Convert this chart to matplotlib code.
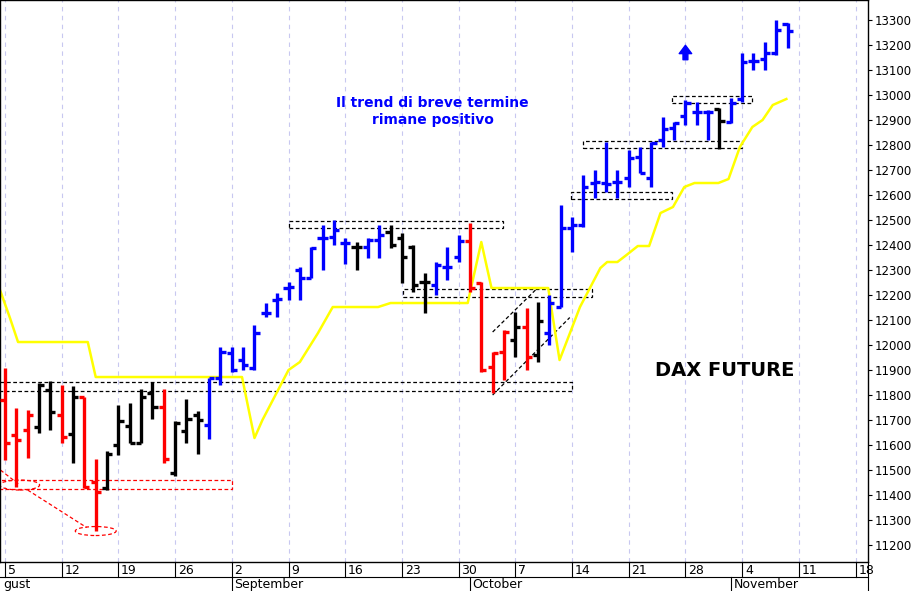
import matplotlib
matplotlib.use("Agg")
import matplotlib.pyplot as plt
from matplotlib.patches import Rectangle, Ellipse

opens = [11780,11640,11660,11672,11820,11720,11644,11792,11452,11428,11600,11676,11608,11808,11752,11488,11656,11720,11680,11868,
         11968,11940,11908,12128,12180,12228,12300,12268,12428,12432,12408,12392,12392,12420,12452,12428,12392,12252,12240,12312,
         12352,12416,12248,11912,11972,12020,12072,11960,12048,12152,12468,12480,12648,12648,12652,12668,12752,12668,12820,12868,
         12916,12932,12932,12944,12892,12984,13136,13144,13168,13284]
highs = [11908,11748,11740,11848,11856,11840,11836,11792,11544,11576,11760,11768,11824,11852,11824,11696,11784,11736,11868,11992,
         11992,11992,12080,12168,12208,12252,12312,12392,12480,12500,12428,12412,12428,12480,12480,12448,12400,12288,12332,12392,
         12440,12488,12252,11972,12060,12132,12148,12172,12200,12560,12512,12680,12700,12812,12700,12780,12792,12812,12912,12892,
         12980,12972,12940,12948,12988,13168,13168,13212,13300,13288]
lows = [11540,11432,11548,11648,11660,11608,11528,11428,11256,11420,11560,11608,11608,11704,11528,11476,11608,11564,11624,11840,
        11892,11900,11900,12112,12112,12180,12180,12268,12300,12400,12324,12300,12348,12348,12388,12248,12212,12128,12200,12260,
        12332,12212,11892,11808,11860,11952,11900,11932,12000,12152,12372,12472,12588,12612,12588,12632,12688,12632,12792,12820,
        12880,12880,12820,12784,12888,12972,13100,13100,13160,13188]
closes = [11608,11620,11720,11840,11732,11632,11792,11432,11412,11564,11696,11608,11792,11752,11544,11688,11704,11700,11868,11972,
          11900,11920,12048,12128,12184,12232,12268,12388,12428,12460,12408,12392,12420,12440,12400,12352,12240,12252,12320,12312,
          12416,12228,11900,11968,12052,12072,11952,12096,12168,12468,12480,12632,12652,12644,12652,12748,12688,12808,12864,12888,
          12968,12932,12932,12896,12968,13132,13136,13168,13260,13256]
signal = "RRRKKRKRRKKKKKRKKKBBBBBBBBBBBBBKBBKKKKBBBRRRRKRKBBBBBBBBBBBBBBBKBBBBBB"
col = {"R": "#ff0000", "K": "#000000", "B": "#0000ff"}

ma_x = [-0.44,0.44,1.15,7.3,8.0,20.9,22.0,22.7,25.0,26.0,27.6,28.9,32.9,34.0,40.8,42.0,42.9,47.9,48.9,50.7,52.5,53.1,54.0,54.8,
        55.8,56.8,57.8,58.9,59.9,60.8,62.9,63.8,64.8,65.9,66.8,67.7,68.9]
ma_y = [12220,12108,12012,12012,11872,11872,11628,11700,11900,11932,12048,12152,12152,12168,12168,12412,12228,12228,11940,12152,
        12308,12332,12332,12360,12396,12396,12528,12552,12632,12648,12648,12664,12792,12872,12900,12960,12984]

day_ticks = [0,5,10,15,20,25,30,35,40,45,50,55,60,65,70,75]
day_labels = ["5","12","19","26","2","9","16","23","30","7","14","21","28","4","11","18"]
months = [("gust", -0.9), ("September", 20), ("October", 41), ("November", 64)]

fig = plt.figure(figsize=(9.2, 5.91), dpi=100)
ax = fig.add_axes([0, 0.049, 0.9435, 0.951])
xmin, xmax = -0.44, 76.1
ax.set_xlim(xmin, xmax)
ax.set_ylim(11132, 13380)

for t in day_ticks:
    ax.axvline(t, color="#c8c8f0", ls=(0, (4, 4)), lw=0.8, zorder=0)

# boxes
boxes = [(-1, 50.0, 11816, 11852, "k"), (25.0, 43.9, 12468, 12496, "k"), (35.1, 51.8, 12192, 12224, "k"),
         (-1, 20.0, 11424, 11460, "r"), (49.9, 58.8, 12584, 12612, "k"), (51.0, 65.0, 12788, 12816, "k"),
         (58.8, 65.9, 12968, 12996, "k")]
for x0, x1, y0, y1, c in boxes:
    ax.add_patch(Rectangle((x0, y0), x1 - x0, y1 - y0, fill=False, ec=c, ls=(0, (3, 2)), lw=0.9, zorder=1))
ax.add_patch(Ellipse((1.3, 11440), 3.5, 40, fill=False, ec="r", ls=(0, (3, 2)), lw=0.9))
ax.add_patch(Ellipse((8.0, 11256), 3.6, 36, fill=False, ec="r", ls=(0, (3, 2)), lw=0.9))
ax.plot([-0.4, 1.3], [11500, 11440], color="r", ls=(0, (3, 2)), lw=0.9)
ax.plot([2.0, 7.2], [11420, 11270], color="r", ls=(0, (3, 2)), lw=0.9)
ax.plot([43.0, 49.8], [11800, 12110], color="k", ls=(0, (3, 2)), lw=0.9)
ax.plot([43.0, 47.0], [12052, 12230], color="k", ls=(0, (3, 2)), lw=0.9)

ax.plot(ma_x, ma_y, color="#ffff00", lw=1.8, zorder=2)

tk = 0.45
for i in range(len(opens)):
    c = col[signal[i]]
    ax.plot([i, i], [lows[i], highs[i]], color=c, lw=2.4, solid_capstyle="butt", zorder=3)
    ax.plot([i - tk, i], [opens[i], opens[i]], color=c, lw=2.4, solid_capstyle="butt", zorder=3)
    ax.plot([i, i + tk], [closes[i], closes[i]], color=c, lw=2.4, solid_capstyle="butt", zorder=3)

ax.text(37.7, 12935, "Il trend di breve termine\nrimane positivo", color="#0000ff", fontsize=10,
        fontweight="bold", ha="center", va="center", linespacing=1.3)
ax.text(63.5, 11900, "DAX FUTURE", color="black", fontsize=14, fontweight="bold", ha="center", va="center")
ax.annotate("", xy=(60.0, 13210), xytext=(60.0, 13130),
            arrowprops=dict(arrowstyle="simple,head_width=0.9,head_length=0.6,tail_width=0.35", color="#0000ff"))

ax.yaxis.tick_right()
ax.set_yticks(range(11200, 13301, 100))
ax.tick_params(axis="y", labelsize=8.5, length=3, pad=2)
ax.set_xticks(day_ticks)
ax.set_xticklabels([])
ax.tick_params(axis="x", length=0)
for s in ax.spines.values():
    s.set_linewidth(1)

def fx(i):
    return 0.9435 * (i - xmin) / (xmax - xmin)

for t, lab in zip(day_ticks, day_labels):
    fig.text(fx(t) + 0.003, 0.035, lab, fontsize=9, ha="left", va="center")
    fig.add_artist(plt.Line2D([fx(t), fx(t)], [0.024, 0.049], color="k", lw=0.8))
fig.add_artist(plt.Line2D([0, 0.9435], [0.024, 0.024], color="k", lw=0.8))
fig.add_artist(plt.Line2D([0.9435, 0.9435], [0, 0.049], color="k", lw=0.8))
for name, pos in months:
    fig.text(max(fx(pos), 0) + 0.003, 0.011, name, fontsize=9, ha="left", va="center")
    if pos > 0:
        fig.add_artist(plt.Line2D([fx(pos), fx(pos)], [0, 0.024], color="k", lw=0.8))

fig.savefig("out.png", dpi=100)
